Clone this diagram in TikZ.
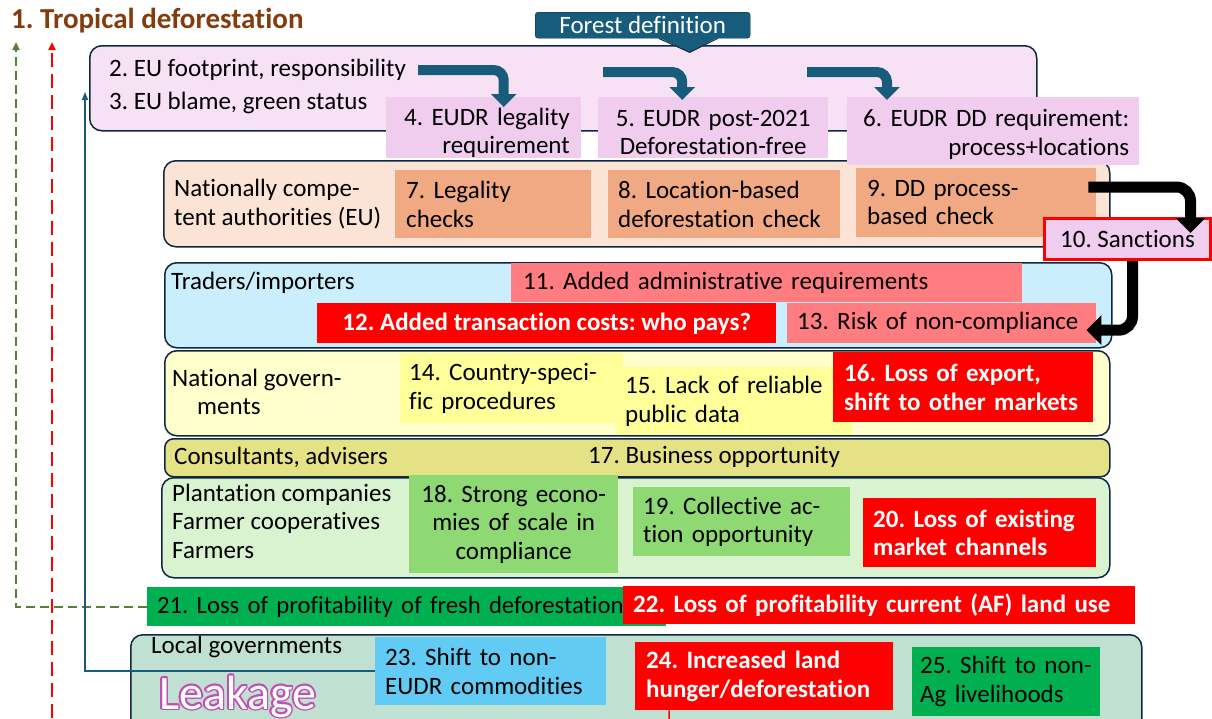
\documentclass[tikz,border=0pt]{standalone}
\usepackage{fontspec}
\setmainfont{Carlito}[Ligatures=NoCommon]
\usepackage{tikz}
\usetikzlibrary{arrows.meta,calc}

\definecolor{edgenavy}{RGB}{14,40,65}
\definecolor{eudrteal}{RGB}{24,92,124}
\definecolor{brownish}{RGB}{132,60,12}
\definecolor{lanepink}{RGB}{247,225,245}
\definecolor{boxpink}{RGB}{240,204,238}
\definecolor{lanepeach}{RGB}{251,227,214}
\definecolor{boxpeach}{RGB}{241,169,131}
\definecolor{laneblue}{RGB}{202,238,251}
\definecolor{lightred}{RGB}{255,124,128}
\definecolor{laneyellow}{RGB}{255,255,204}
\definecolor{boxyellow}{RGB}{255,255,153}
\definecolor{khaki}{RGB}{229,226,134}
\definecolor{lanegreen}{RGB}{217,242,208}
\definecolor{boxgreen}{RGB}{142,217,115}
\definecolor{deepgreen}{RGB}{0,176,80}
\definecolor{lanesage}{RGB}{192,224,210}
\definecolor{skyblue}{RGB}{97,203,244}
\definecolor{leakpurple}{RGB}{192,79,181}
\definecolor{dashgreen}{RGB}{84,130,53}

\begin{document}
\frenchspacing
\begin{tikzpicture}[x=1pt, y=-1pt,
  lane/.style={draw=edgenavy, line width=1.5pt, rounded corners=12pt, anchor=north west, inner sep=0pt},
  cell/.style={anchor=north west, inner sep=0pt, font=\fontsize{25}{28.5}\selectfont},
  txt/.style={anchor=west, inner sep=0pt, align=left, font=\fontsize{25}{28.5}\selectfont},
  hot/.style={cell, fill=red, text=white, font=\fontsize{25}{28.5}\selectfont\bfseries},
  turnarr/.style={eudrteal, line width=10pt, rounded corners=10pt, -{Triangle[length=13pt,width=25pt]}},
  blackarr/.style={black, line width=11pt, rounded corners=14pt, -{Triangle[length=15pt,width=29pt]}}]
\clip (0,0) rectangle (1212,718);

% lanes
\node[lane, fill=lanepink, minimum width=947pt, minimum height=85pt] (eu) at (89,45) {};
\node[lane, fill=lanepeach, minimum width=946pt, minimum height=86pt] (nca) at (163,160) {};
\node[lane, fill=laneblue, minimum width=947pt, minimum height=85pt] (trd) at (164,262) {};
\node[lane, fill=laneyellow, minimum width=945pt, minimum height=85pt] (ngov) at (164,350) {};
\node[lane, fill=khaki, minimum width=945pt, minimum height=38pt, rounded corners=9pt] (cons) at (164,438) {};
\node[lane, fill=lanegreen, minimum width=948pt, minimum height=100pt] (farm) at (161,477) {};
\node[lane, fill=lanesage, minimum width=1011pt, minimum height=100pt] (loc) at (130,634) {};

\node[txt] (t2) at (109,70) {2. EU footprint, responsibility};
\node[txt] (t3) at (109,103) {3. EU blame, green status};
\node[txt] (tnca) at (174,204) {Nationally compe-\\tent authorities (EU)};
\node[txt] (ttrd) at (171,283) {Traders/importers};
\node[txt] (tngov) at (172,392) {National govern-\\\hspace*{25pt}ments};
\node[txt] (tcons) at (174,457) {Consultants, advisers};
\node[txt] (t17) at (588,457) {17. Business opportunity};
\node[txt] (tfarm) at (172,521) {Plantation companies\\Farmer cooperatives\\Farmers};
\node[txt] (tloc) at (151,647) {Local governments};

% boxes
\node[cell, fill=boxpink, minimum width=195pt, minimum height=61pt] (b4) at (386,97) {};
\node[txt, anchor=center, text width=172pt, align=right] (b4t) at ([yshift=-5pt]b4.center) {4. EUDR legality\\requirement};
\node[cell, fill=boxpink, minimum width=230pt, minimum height=61pt] (b5) at (598,97) {};
\node[txt, anchor=center, text width=210pt, align=center] (b5t) at ([yshift=-5pt]b5.center) {5. EUDR post-2021\\Deforestation-free};
\node[cell, fill=boxpink, minimum width=292pt, minimum height=68pt] (b6) at (847,97) {};
\node[txt, anchor=center, text width=272pt, align=right] (b6t) at ([yshift=-3pt]b6.center) {6. EUDR DD requirement:\\process+locations};
\node[cell, fill=boxpeach, minimum width=196pt, minimum height=68pt, text width=174pt, align=left] (b7) at (395,170) {7. Legality\\checks};
\node[cell, fill=boxpeach, minimum width=232pt, minimum height=68pt, text width=212pt, align=left] (b8) at (608,170) {8. Location-based\\deforestation check};
\node[cell, fill=boxpeach, minimum width=240pt, minimum height=69pt, text width=218pt, align=left] (b9) at (856,168) {9. DD process-\\based check};
\node[cell, fill=boxpink, draw=red, line width=3pt, minimum width=166pt, minimum height=41pt, align=center] (b10) at (1043,217) {10. Sanctions};
\node[cell, fill=lightred, minimum width=511pt, minimum height=39pt, text width=487pt, align=left] (b11) at (511,263) {11. Added administrative requirements};
\node[hot, minimum width=459pt, minimum height=40pt, align=center] (b12) at (317,303) {12. Added transaction costs: who pays?};
\node[cell, fill=lightred, minimum width=309pt, minimum height=40pt, text width=289pt, align=left] (b13) at (787,303) {13. Risk of non-compliance};
\node[cell, fill=boxyellow, minimum width=223pt, minimum height=70pt, text width=205pt, align=left] (b14) at (400,353) {14. Country-speci-\\fic procedures};
\node[cell, fill=boxyellow, minimum width=236pt, minimum height=68pt, text width=218pt, align=left] (b15) at (616,367) {15. Lack of reliable\\public data};
\node[hot, minimum width=260pt, minimum height=70pt, text width=238pt, align=left] (b16) at (833,352) {16. Loss of export,\\shift to other markets};
\node[cell, fill=boxgreen, minimum width=209pt, minimum height=98pt, text width=200pt, align=center] (b18) at (409,475) {18. Strong econo-\\mies of scale in\\compliance};
\node[cell, fill=boxgreen, minimum width=217pt, minimum height=69pt, text width=197pt, align=left] (b19) at (633,487) {19. Collective ac-\\tion opportunity};
\node[hot, minimum width=233pt, minimum height=69pt, text width=213pt, align=left] (b20) at (863,498) {20. Loss of existing\\market channels};
\node[cell, fill=deepgreen, minimum width=519pt, minimum height=39pt, text width=499pt, align=left, font=\fontsize{24.7}{28}\selectfont] (b21) at (147,587) {21. Loss of profitability of fresh deforestation};
\node[hot, minimum width=512pt, minimum height=38pt, text width=492pt, align=left] (b22) at (623,586) {22. Loss of profitability current (AF) land use};
\node[cell, fill=skyblue, minimum width=231pt, minimum height=68pt, text width=211pt, align=left] (b23) at (375,637) {23. Shift to non-\\EUDR commodities};
\node[hot, minimum width=258pt, minimum height=68pt, text width=236pt, align=left] (b24) at (635,642) {24. Increased land\\hunger/deforestation};
\node[cell, fill=deepgreen, minimum width=188pt, minimum height=69pt, text width=172pt, align=left] (b25) at (912,647) {25. Shift to non-\\Ag livelihoods};

% Leakage, outlined
\foreach \a in {0,30,...,330}
  \node[anchor=base west, inner sep=0pt, text=leakpurple, font=\fontsize{48}{48}\selectfont] (lk\a) at ($(159,709)+(\a:1.7)$) {Leakage};
\node[anchor=base west, inner sep=0pt, text=white, font=\fontsize{48}{48}\selectfont] (leak) at (159,709) {Leakage};

% forest definition callout
\node[anchor=north west, fill=eudrteal, draw=edgenavy, rounded corners=3pt, minimum width=215pt, minimum height=26pt, inner sep=0pt, text=white, font=\fontsize{25}{28.5}\selectfont] (fdef) at (535,12) {Forest definition};
\fill[eudrteal] ([shift={(16pt,1pt)}]fdef.south) -- ([shift={(75pt,1pt)}]fdef.south) -- ([shift={(47pt,-14pt)}]fdef.south) -- cycle;
\draw[edgenavy, line width=1pt] ([xshift=16pt]fdef.south) -- ([shift={(47pt,-14pt)}]fdef.south) -- ([xshift=75pt]fdef.south);

% arrows
\draw[turnarr] ([xshift=12pt]t2.east) -| ([shift={(20pt,-10pt)}]b4.north);
\coordinate (a5) at (603,72);
\draw[turnarr] (a5) -| ([shift={(-31pt,-3pt)}]b5.north);
\coordinate (a6) at (807,72);
\draw[turnarr] (a6) -| ([shift={(40pt,-3pt)}]b6.north west);

\draw[blackarr] ([shift={(-8pt,-19pt)}]b9.north east) -| ([shift={(63pt,-16pt)}]b10.north);
\draw[blackarr] ([xshift=5pt]b10.south) |- ([shift={(-10pt,-7pt)}]b13.east);

% side lines
\coordinate (g1) at (16,42);
\draw[dashgreen, line width=2.2pt, dash pattern=on 9pt off 5pt, -{Triangle[length=8pt,width=7pt]}] (b21.west) -| (g1);
\coordinate (r0) at (52,718);
\coordinate (r1) at (52,42);
\draw[red, line width=2pt, dash pattern=on 14pt off 7pt, -{Triangle[length=8pt,width=7pt]}] (r0) -- (r1);
\coordinate (bt) at (85,92);
\draw[eudrteal, line width=1.5pt, -{Triangle[length=8pt,width=6pt]}] (b23.west) -| (bt);
\coordinate (r24) at (669,720);
\draw[red, line width=1.5pt] ([xshift=-95pt]b24.south) -- (r24);

\node[anchor=west, inner sep=0pt, text=brownish, font=\fontsize{29}{29}\selectfont\bfseries] (title) at (11,21) {1. Tropical deforestation};
\end{tikzpicture}
\end{document}
